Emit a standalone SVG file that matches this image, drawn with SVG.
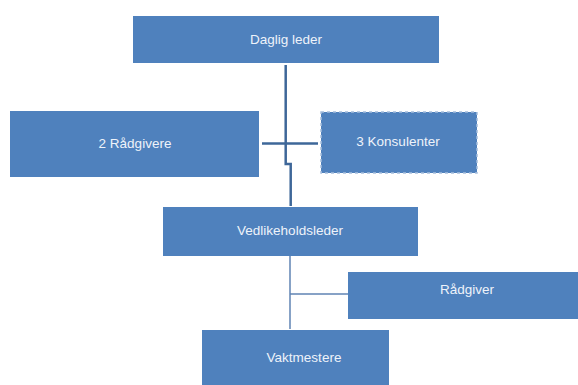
<svg xmlns="http://www.w3.org/2000/svg" width="578" height="385" viewBox="0 0 578 385">
<style>
.box{fill:#4F81BD;}
.lbl{font-family:"Liberation Sans",Arial,sans-serif;font-size:13.5px;fill:#EEF3FA;text-anchor:middle;}
.c1{stroke:#3E6799;stroke-width:2.5;fill:none;}
.c2{stroke:#5F83B3;stroke-width:1.5;fill:none;}
</style>
<rect width="578" height="385" fill="#FFFFFF"/>
<g id="connectors">
<path class="c1" d="M285.7 65 V164 H290.7 V206"/>
<path class="c1" d="M262 143.5 H318"/>
<path class="c2" d="M290 256 V329"/>
<path class="c2" d="M290 294 H348" stroke-width="1.2"/>
</g>
<g id="daglig-leder">
<rect class="box" x="133" y="16" width="306" height="47"/>
<text class="lbl" x="286" y="44">Daglig leder</text>
</g>
<g id="raadgivere">
<rect class="box" x="10" y="111" width="249" height="66"/>
<text class="lbl" x="135" y="148">2 Rådgivere</text>
</g>
<g id="konsulenter">
<rect class="box" x="321" y="112" width="156" height="61" stroke="#A7BEDD" stroke-width="1.5" stroke-dasharray="3 3"/>
<text class="lbl" x="398" y="146">3 Konsulenter</text>
</g>
<g id="vedlikeholdsleder">
<rect class="box" x="163" y="207" width="255" height="49"/>
<text class="lbl" x="290" y="235">Vedlikeholdsleder</text>
</g>
<g id="raadgiver">
<rect class="box" x="348" y="272" width="230" height="47"/>
<text class="lbl" x="467" y="294">Rådgiver</text>
</g>
<g id="vaktmestere">
<rect class="box" x="202" y="330" width="187" height="55"/>
<text class="lbl" x="304" y="362">Vaktmestere</text>
</g>
</svg>
